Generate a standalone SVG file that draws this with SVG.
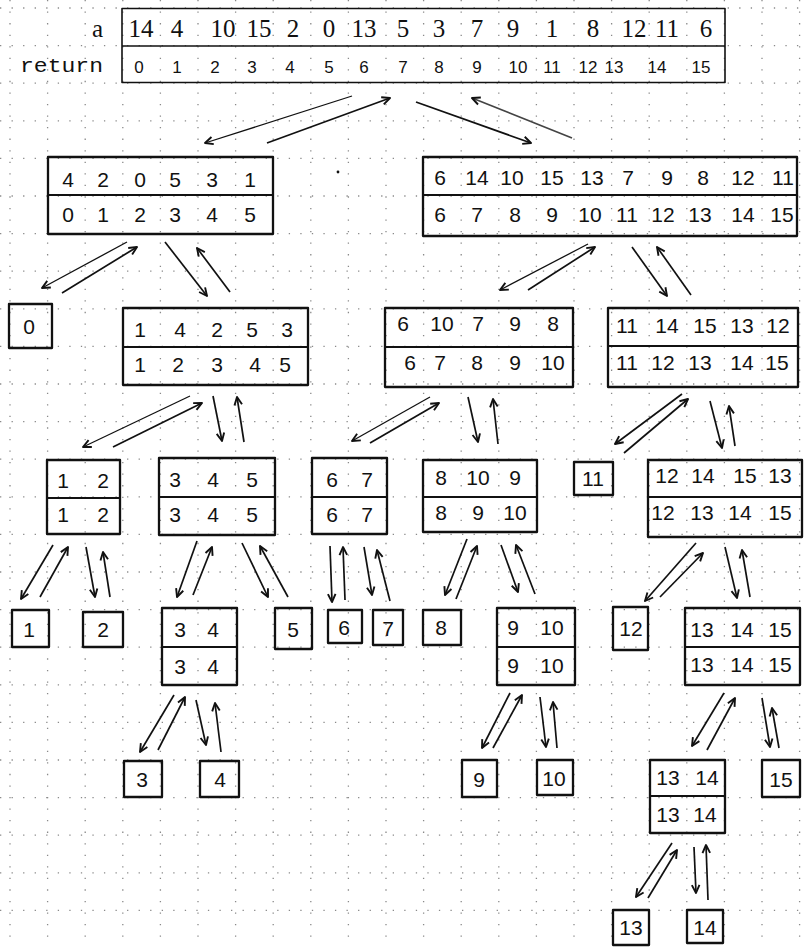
<svg xmlns="http://www.w3.org/2000/svg" width="805" height="947" viewBox="0 0 805 947">
<style>
.grid{stroke:#8a8a8a;stroke-width:1.3;stroke-dasharray:1.3 10.25;fill:none}
.box{fill:none;stroke:#111;stroke-width:2.3;stroke-linejoin:round}
.sep{stroke:#111;stroke-width:2}
.d{font-family:"Liberation Sans",Arial,sans-serif;font-size:21px;text-anchor:middle;fill:#111}
.ser{font-family:"Liberation Serif","Times New Roman",serif;font-size:25px;text-anchor:middle;fill:#111}
.small{font-family:"Liberation Sans",Arial,sans-serif;font-size:17px;text-anchor:middle;fill:#111}
.mono{font-family:"Liberation Mono","Courier New",monospace;font-size:21px;fill:#111}
.c line{stroke:#111;stroke-width:1.7;marker-end:url(#ah)}
</style>
<defs>
<marker id="ah" viewBox="0 0 10 10" refX="9" refY="5" markerWidth="10" markerHeight="10" markerUnits="userSpaceOnUse" orient="auto">
<path d="M1,1.2 L9,5 L1,8.8" fill="none" stroke="#111" stroke-width="1.9" stroke-linejoin="round"/>
</marker>
</defs>
<rect width="805" height="947" fill="#fff"/>
<path class="grid" d="M0,8H805M0,45.6H805M0,83.2H805M0,120.8H805M0,158.4H805M0,196H805M0,233.6H805M0,271.2H805M0,308.8H805M0,346.4H805M0,384H805M0,421.6H805M0,459.2H805M0,496.8H805M0,534.4H805M0,572H805M0,609.6H805M0,647.2H805M0,684.8H805M0,722.4H805M0,760H805M0,797.6H805M0,835.2H805M0,872.8H805M0,910.4H805"/>
<path class="grid" d="M10,0V947M47.6,0V947M85.2,0V947M122.8,0V947M160.4,0V947M198,0V947M235.6,0V947M273.2,0V947M310.8,0V947M348.4,0V947M386,0V947M423.6,0V947M461.2,0V947M498.8,0V947M536.4,0V947M574,0V947M611.6,0V947M649.2,0V947M686.8,0V947M724.4,0V947M762,0V947M799.6,0V947"/>

<g id="top">
<text class="ser" x="103" y="37" style="text-anchor:end">a</text>
<text class="mono" x="20" y="72" textLength="83" lengthAdjust="spacingAndGlyphs">return</text>
<rect class="box" x="122" y="8.5" width="603" height="74" style="stroke-width:1.6"/>
<line class="sep" x1="122" y1="46" x2="725" y2="46" style="stroke-width:1.6"/>
<g class="ser">
<text x="141" y="37">14</text><text x="177" y="37">4</text><text x="223" y="37">10</text><text x="259" y="37">15</text><text x="293" y="37">2</text><text x="329" y="37">0</text><text x="364" y="37">13</text><text x="403" y="37">5</text><text x="439" y="37">3</text><text x="477" y="37">7</text><text x="513" y="37">9</text><text x="552" y="37">1</text><text x="593" y="37">8</text><text x="634" y="37">12</text><text x="667" y="37">11</text><text x="706" y="37">6</text>
</g>
<g class="small">
<text x="139" y="73">0</text><text x="177" y="73">1</text><text x="215" y="73">2</text><text x="252" y="73">3</text><text x="290" y="73">4</text><text x="329" y="73">5</text><text x="364" y="73">6</text><text x="403" y="73">7</text><text x="439" y="73">8</text><text x="477" y="73">9</text><text x="518" y="73">10</text><text x="552" y="73">11</text><text x="588" y="73">12</text><text x="614" y="73">13</text><text x="657" y="73">14</text><text x="701" y="73">15</text>
</g>
</g>

<circle cx="338" cy="172" r="1.4" fill="#111"/>

<g id="n-L1">
<rect class="box" x="48" y="157" width="225" height="77"/>
<line class="sep" x1="48" y1="195" x2="273" y2="195"/>
<g class="d"><text x="68" y="187">4</text><text x="103" y="187">2</text><text x="140" y="187">0</text><text x="175" y="187">5</text><text x="212" y="187">3</text><text x="250" y="187">1</text>
<text x="68" y="222">0</text><text x="103" y="222">1</text><text x="140" y="222">2</text><text x="175" y="222">3</text><text x="212" y="222">4</text><text x="250" y="222">5</text></g>
</g>
<g id="n-R1">
<rect class="box" x="423" y="157" width="374" height="79"/>
<line class="sep" x1="423" y1="195" x2="797" y2="195"/>
<g class="d"><text x="440" y="185">6</text><text x="477" y="185">14</text><text x="512" y="185">10</text><text x="552" y="185">15</text><text x="592" y="185">13</text><text x="628" y="185">7</text><text x="667" y="185">9</text><text x="703" y="185">8</text><text x="743" y="185">12</text><text x="783" y="185">11</text>
<text x="440" y="222">6</text><text x="477" y="222">7</text><text x="515" y="222">8</text><text x="552" y="222">9</text><text x="590" y="222">10</text><text x="627" y="222">11</text><text x="663" y="222">12</text><text x="700" y="222">13</text><text x="743" y="222">14</text><text x="782" y="222">15</text></g>
</g>
<g id="n-0">
<rect class="box" x="9" y="304" width="43" height="44"/>
<text class="d" x="29" y="334">0</text>
</g>
<g id="n-L2">
<rect class="box" x="123" y="308" width="185" height="77"/>
<line class="sep" x1="123" y1="347" x2="308" y2="347"/>
<g class="d"><text x="140" y="337">1</text><text x="180" y="337">4</text><text x="217" y="337">2</text><text x="252" y="337">5</text><text x="287" y="337">3</text>
<text x="140" y="372">1</text><text x="178" y="372">2</text><text x="217" y="372">3</text><text x="255" y="372">4</text><text x="285" y="372">5</text></g>
</g>
<g id="n-R2L">
<rect class="box" x="385" y="308" width="188" height="79"/>
<line class="sep" x1="385" y1="347" x2="573" y2="347"/>
<g class="d"><text x="403" y="331">6</text><text x="442" y="331">10</text><text x="478" y="331">7</text><text x="515" y="331">9</text><text x="553" y="331">8</text>
<text x="410" y="370">6</text><text x="440" y="370">7</text><text x="477" y="370">8</text><text x="515" y="370">9</text><text x="553" y="370">10</text></g>
</g>
<g id="n-R2R">
<rect class="box" x="608" y="308" width="190" height="79"/>
<line class="sep" x1="608" y1="346" x2="798" y2="346"/>
<g class="d"><text x="627" y="333">11</text><text x="667" y="333">14</text><text x="705" y="333">15</text><text x="742" y="333">13</text><text x="778" y="333">12</text>
<text x="627" y="370">11</text><text x="663" y="370">12</text><text x="700" y="370">13</text><text x="742" y="370">14</text><text x="777" y="370">15</text></g>
</g>
<g id="n-12">
<rect class="box" x="47" y="460" width="73" height="74"/>
<line class="sep" x1="47" y1="498" x2="120" y2="498"/>
<g class="d"><text x="63" y="488">1</text><text x="103" y="488">2</text><text x="63" y="522">1</text><text x="103" y="522">2</text></g>
</g>
<g id="n-345">
<rect class="box" x="159" y="458" width="116" height="77"/>
<line class="sep" x1="159" y1="497" x2="275" y2="497"/>
<g class="d"><text x="175" y="487">3</text><text x="213" y="487">4</text><text x="252" y="487">5</text><text x="175" y="522">3</text><text x="213" y="522">4</text><text x="252" y="522">5</text></g>
</g>
<g id="n-67">
<rect class="box" x="312" y="458" width="75" height="76"/>
<line class="sep" x1="312" y1="497" x2="387" y2="497"/>
<g class="d"><text x="332" y="487">6</text><text x="367" y="487">7</text><text x="332" y="522">6</text><text x="367" y="522">7</text></g>
</g>
<g id="n-8109">
<rect class="box" x="423" y="460" width="114" height="72"/>
<line class="sep" x1="423" y1="497" x2="537" y2="497"/>
<g class="d"><text x="441" y="485">8</text><text x="478" y="485">10</text><text x="515" y="485">9</text><text x="441" y="520">8</text><text x="478" y="520">9</text><text x="515" y="520">10</text></g>
</g>
<g id="n-11">
<rect class="box" x="574" y="462" width="39" height="33"/>
<text class="d" x="593" y="486">11</text>
</g>
<g id="n-12141513">
<rect class="box" x="648" y="460" width="154" height="77"/>
<line class="sep" x1="648" y1="497" x2="802" y2="497"/>
<g class="d"><text x="667" y="483">12</text><text x="703" y="483">14</text><text x="745" y="483">15</text><text x="780" y="483">13</text>
<text x="663" y="520">12</text><text x="702" y="520">13</text><text x="740" y="520">14</text><text x="780" y="520">15</text></g>
</g>
<g id="n-1"><rect class="box" x="12" y="610" width="37" height="37"/><text class="d" x="29" y="637">1</text></g>
<g id="n-2"><rect class="box" x="83" y="612" width="40" height="35"/><text class="d" x="103" y="637">2</text></g>
<g id="n-34">
<rect class="box" x="162" y="608" width="75" height="77"/>
<line class="sep" x1="162" y1="647" x2="237" y2="647"/>
<g class="d"><text x="180" y="637">3</text><text x="213" y="637">4</text><text x="180" y="674">3</text><text x="213" y="674">4</text></g>
</g>
<g id="n-5"><rect class="box" x="275" y="608" width="37" height="41"/><text class="d" x="293" y="637">5</text></g>
<g id="n-6"><rect class="box" x="328" y="610" width="34" height="33"/><text class="d" x="344" y="635">6</text></g>
<g id="n-7"><rect class="box" x="373" y="610" width="30" height="35"/><text class="d" x="388" y="636">7</text></g>
<g id="n-8"><rect class="box" x="423" y="610" width="38" height="35"/><text class="d" x="441" y="635">8</text></g>
<g id="n-910">
<rect class="box" x="497" y="608" width="78" height="77"/>
<line class="sep" x1="497" y1="647" x2="575" y2="647"/>
<g class="d"><text x="513" y="635">9</text><text x="552" y="635">10</text><text x="513" y="673">9</text><text x="552" y="673">10</text></g>
</g>
<g id="n-12leaf"><rect class="box" x="613" y="607" width="35" height="43"/><text class="d" x="631" y="636">12</text></g>
<g id="n-131415">
<rect class="box" x="685" y="608" width="115" height="77"/>
<line class="sep" x1="685" y1="647" x2="800" y2="647"/>
<g class="d"><text x="702" y="637">13</text><text x="742" y="637">14</text><text x="780" y="637">15</text><text x="702" y="672">13</text><text x="742" y="672">14</text><text x="780" y="672">15</text></g>
</g>
<g id="n-3"><rect class="box" x="124" y="761" width="38" height="36"/><text class="d" x="142" y="787">3</text></g>
<g id="n-4"><rect class="box" x="200" y="761" width="39" height="36"/><text class="d" x="220" y="787">4</text></g>
<g id="n-9"><rect class="box" x="462" y="760" width="35" height="37"/><text class="d" x="479" y="787">9</text></g>
<g id="n-10"><rect class="box" x="537" y="760" width="36" height="35"/><text class="d" x="554" y="786">10</text></g>
<g id="n-1314">
<rect class="box" x="650" y="760" width="75" height="73"/>
<line class="sep" x1="650" y1="796" x2="725" y2="796"/>
<g class="d"><text x="668" y="785">13</text><text x="707" y="785">14</text><text x="668" y="822">13</text><text x="705" y="822">14</text></g>
</g>
<g id="n-15"><rect class="box" x="762" y="760" width="38" height="37"/><text class="d" x="781" y="787">15</text></g>
<g id="n-13"><rect class="box" x="613" y="910" width="36" height="35"/><text class="d" x="631" y="935">13</text></g>
<g id="n-14"><rect class="box" x="687" y="910" width="36" height="33"/><text class="d" x="705" y="935">14</text></g>

<g id="connectors" class="c">
<line x1="352" y1="96" x2="205" y2="143" style="stroke-width:1.3"/>
<line x1="267" y1="143" x2="390" y2="98"/>
<line x1="416" y1="102" x2="531" y2="143"/>
<line x1="572" y1="138" x2="472" y2="98" style="stroke:#444"/>
<line x1="127" y1="242" x2="42" y2="288" style="stroke-width:1.3"/>
<line x1="62" y1="293" x2="137" y2="247"/>
<line x1="165" y1="242" x2="207" y2="296"/>
<line x1="230" y1="292" x2="197" y2="248"/>
<line x1="588" y1="244" x2="500" y2="290" style="stroke-width:1.3"/>
<line x1="528" y1="290" x2="595" y2="247"/>
<line x1="632" y1="247" x2="667" y2="296"/>
<line x1="691" y1="295" x2="657" y2="247"/>
<line x1="190" y1="396" x2="83" y2="447" style="stroke-width:1.3"/>
<line x1="113" y1="447" x2="202" y2="403"/>
<line x1="213" y1="396" x2="222" y2="441"/>
<line x1="244" y1="442" x2="237" y2="397"/>
<line x1="430" y1="397" x2="352" y2="441" style="stroke-width:1.3"/>
<line x1="370" y1="443" x2="439" y2="403"/>
<line x1="468" y1="397" x2="478" y2="442"/>
<line x1="498" y1="444" x2="493" y2="399"/>
<line x1="682" y1="394" x2="615" y2="444"/>
<line x1="624" y1="453" x2="688" y2="399"/>
<line x1="710" y1="401" x2="722" y2="448"/>
<line x1="735" y1="446" x2="729" y2="406"/>
<line x1="53" y1="545" x2="21" y2="599"/>
<line x1="40" y1="597" x2="68" y2="547"/>
<line x1="86" y1="547" x2="95" y2="597"/>
<line x1="110" y1="597" x2="103" y2="552"/>
<line x1="197" y1="541" x2="177" y2="597"/>
<line x1="193" y1="595" x2="212" y2="547"/>
<line x1="242" y1="543" x2="268" y2="597"/>
<line x1="288" y1="597" x2="260" y2="546"/>
<line x1="330" y1="546" x2="332" y2="602"/>
<line x1="345" y1="600" x2="343" y2="547"/>
<line x1="364" y1="547" x2="372" y2="595"/>
<line x1="390" y1="601" x2="377" y2="550"/>
<line x1="467" y1="539" x2="445" y2="595"/>
<line x1="456" y1="599" x2="477" y2="546"/>
<line x1="501" y1="545" x2="518" y2="592"/>
<line x1="535" y1="594" x2="516" y2="545"/>
<line x1="696" y1="543" x2="645" y2="601"/>
<line x1="660" y1="597" x2="703" y2="553"/>
<line x1="725" y1="547" x2="737" y2="598"/>
<line x1="750" y1="597" x2="742" y2="550"/>
<line x1="174" y1="695" x2="140" y2="752"/>
<line x1="158" y1="750" x2="185" y2="697"/>
<line x1="196" y1="700" x2="206" y2="745"/>
<line x1="221" y1="752" x2="215" y2="703"/>
<line x1="510" y1="693" x2="482" y2="748"/>
<line x1="493" y1="748" x2="522" y2="695"/>
<line x1="540" y1="697" x2="546" y2="747"/>
<line x1="557" y1="748" x2="553" y2="702"/>
<line x1="724" y1="693" x2="692" y2="746"/>
<line x1="707" y1="750" x2="735" y2="698"/>
<line x1="762" y1="698" x2="770" y2="747"/>
<line x1="779" y1="748" x2="772" y2="708"/>
<line x1="672" y1="843" x2="636" y2="897"/>
<line x1="648" y1="898" x2="677" y2="850"/>
<line x1="694" y1="847" x2="696" y2="893"/>
<line x1="708" y1="900" x2="706" y2="845"/>
</g>
</svg>
